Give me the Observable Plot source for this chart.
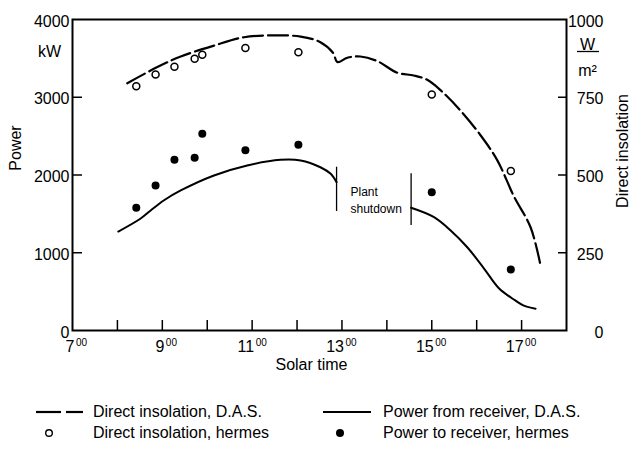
<!DOCTYPE html>
<html><head><meta charset="utf-8">
<script src="https://cdn.jsdelivr.net/npm/d3@7"></script>
<script src="https://cdn.jsdelivr.net/npm/@observablehq/plot@0.6"></script>
<style>
body{margin:0;background:#fff;}
#wrap{position:relative;width:633px;height:452px;overflow:hidden;font-family:"Liberation Sans",Arial,sans-serif;color:#000;}
#legend{position:absolute;left:0;top:385px;width:633px;height:67px;font-size:16px;}
.t{position:absolute;line-height:20px;white-space:nowrap;}
.s{position:absolute;}
</style></head><body>
<div id="wrap"><div id="chart"></div><div id="legend"></div></div>
<script>
// ---- data ----
const xLabelHours = [7, 9, 11, 13, 15, 17];
const xTickHours = [8, 9, 10, 11, 12, 13, 14, 15, 16, 17];
const powerTicks = [0, 1000, 2000, 3000, 4000];
const insolTicks = [0, 250, 500, 750, 1000];

// Direct insolation, D.A.S. (W/m2)
const dasInsolTime = [8.22, 8.89, 9.41, 10.15, 10.82, 11.48, 12.08, 12.52, 12.80, 12.90, 13.12, 13.41, 13.79, 14.23, 14.60, 14.90, 15.20, 15.64, 16.09, 16.46, 16.83, 17.20, 17.43];
const dasInsol     = [795, 847, 881, 916, 943, 949, 945, 927, 893, 863, 877, 881, 866, 829, 820, 806, 772, 707, 627, 547, 431, 332, 204];

// Power from receiver, D.A.S. (kW) - before and after plant shutdown
const dasPowerTimeA = [8.02, 8.51, 8.74, 9.03, 9.41, 10.15, 10.89, 11.63, 12.08, 12.52, 12.75, 12.88];
const dasPowerA     = [1273, 1437, 1543, 1672, 1801, 1994, 2122, 2195, 2187, 2100, 2015, 1907];
const dasPowerTimeB = [14.54, 15.05, 15.42, 15.79, 16.16, 16.50, 16.85, 17.05, 17.31];
const dasPowerB     = [1578, 1457, 1286, 1071, 800, 540, 390, 320, 280];

// hermes measurements
const hermesTime  = [8.42, 8.85, 9.27, 9.72, 9.89, 10.85, 12.03, 15.00, 16.76];
const hermesInsol = [785, 823, 848, 874, 887, 908, 895, 759, 513];
const hermesPower = [1578, 1865, 2197, 2221, 2530, 2319, 2388, 1779, 785];

// plant shutdown markers
const shutdownTime   = [12.88, 14.54];
const shutdownTop    = [2100, 2015];
const shutdownBottom = [1531, 1350];
const shutdownNote   = {t: 13.19, p: 1890, text: "Plant\nshutdown"};

// ---- tables ----
const kWperWm2 = 4;
const insolLine = dasInsolTime.map((t, i) => ({t, p: dasInsol[i] * kWperWm2}));
const powerA = dasPowerTimeA.map((t, i) => ({t, p: dasPowerA[i]}));
const powerB = dasPowerTimeB.map((t, i) => ({t, p: dasPowerB[i]}));
const insolPts = hermesTime.map((t, i) => ({t, p: hermesInsol[i] * kWperWm2}));
const powerPts = hermesTime.map((t, i) => ({t, p: hermesPower[i]}));
const shutdown = shutdownTime.map((t, i) => ({t, top: shutdownTop[i], bottom: shutdownBottom[i]}));

const FONT = `"Liberation Sans",Arial,sans-serif`;
const W = 633, H = 385, ML = 72, MR = 67, MT = 19, MB = 55;
const FW = W - ML - MR, FH = H - MT - MB;

const chart = Plot.plot({
  width: W, height: H, marginLeft: ML, marginRight: MR, marginTop: MT, marginBottom: MB,
  style: {fontFamily: FONT, fontSize: "16px", color: "#000", background: "#fff"},
  x: {domain: [7, 18]},
  y: {domain: [0, 4000]},
  marks: [
    // inward ticks
    Plot.tickY(powerTicks.slice(1, -1), {y: d => d, insetRight: FW - 10, stroke: "#000", strokeWidth: 1.5}),
    Plot.tickY(insolTicks.slice(1, -1), {y: d => d * kWperWm2, insetLeft: FW - 8, stroke: "#000", strokeWidth: 1.5}),
    Plot.tickX(xTickHours, {x: d => d, insetTop: FH - 10, stroke: "#000", strokeWidth: 1.5}),
    Plot.frame({stroke: "#000", strokeWidth: 2}),
    // axes labels
    Plot.axisY(powerTicks, {anchor: "left", tickSize: 0, tickPadding: 3, dy: 2, fontSize: 16, tickFormat: d => String(d), label: null}),
    Plot.axisY(insolTicks.map(d => d * kWperWm2), {anchor: "right", tickSize: 0, tickPadding: 37, textAnchor: "end", dy: 2, fontSize: 16, tickFormat: d => String(d / kWperWm2), label: null}),
    Plot.axisX(xLabelHours, {anchor: "bottom", tickSize: 0, tickPadding: 10, textAnchor: "end", dx: 2, fontSize: 16, tickFormat: d => String(d), label: null}),
    Plot.axisX(xLabelHours, {anchor: "bottom", tickSize: 0, tickPadding: 8, textAnchor: "start", dx: 3.5, fontSize: 10, tickFormat: () => "00", label: null}),
    // units
    Plot.text(["kW"], {frameAnchor: "top-left", textAnchor: "middle", dx: -23, dy: 26, fontSize: 16}),
    Plot.text(["W"], {frameAnchor: "top-right", textAnchor: "middle", dx: 21, dy: 19, fontSize: 16}),
    Plot.ruleY([4000], {dy: 32, insetLeft: FW + 11, insetRight: -33, stroke: "#000", strokeWidth: 1.3}),
    Plot.text(["m²"], {frameAnchor: "top-right", textAnchor: "middle", dx: 21, dy: 45, fontSize: 16}),
    // axis titles
    Plot.text(["Power"], {frameAnchor: "left", textAnchor: "middle", rotate: -90, dx: -57, dy: -27, fontSize: 16}),
    Plot.text(["Direct insolation"], {frameAnchor: "right", textAnchor: "middle", rotate: -90, dx: 56, dy: -24, fontSize: 16}),
    Plot.text(["Solar time"], {frameAnchor: "bottom", textAnchor: "middle", dx: -8, dy: 39, fontSize: 16}),
    // data
    Plot.line(insolLine, {x: "t", y: "p", curve: "catmull-rom", stroke: "#000", strokeWidth: 2.2, strokeDasharray: "20,5"}),
    Plot.line(powerA, {x: "t", y: "p", curve: "catmull-rom", stroke: "#000", strokeWidth: 2}),
    Plot.line(powerB, {x: "t", y: "p", curve: "catmull-rom", stroke: "#000", strokeWidth: 2}),
    Plot.ruleX(shutdown, {x: "t", y1: "bottom", y2: "top", stroke: "#000", strokeWidth: 1.3}),
    Plot.text([shutdownNote], {x: "t", y: "p", text: "text", textAnchor: "start", lineAnchor: "top", lineHeight: 1.45, fontSize: 12}),
    Plot.dot(insolPts, {x: "t", y: "p", r: 3.5, stroke: "#000", strokeWidth: 1.5, fill: "#fff"}),
    Plot.dot(powerPts, {x: "t", y: "p", r: 4, fill: "#000", stroke: "none"})
  ]
});
document.getElementById("chart").appendChild(chart);

// ---- legend ----
const legendItems = [
  {label: "Direct insolation, D.A.S.", kind: "dash", sx: 36, tx: 93, row: 0},
  {label: "Power from receiver, D.A.S.", kind: "solid", sx: 323, tx: 383, row: 0},
  {label: "Direct insolation, hermes", kind: "circle", sx: 49, tx: 93, row: 1},
  {label: "Power to receiver, hermes", kind: "dot", sx: 340, tx: 383, row: 1}
];
const rowY = [27, 48];
const leg = d3.select("#legend");
for (const it of legendItems) {
  const cy = rowY[it.row];
  const svg = leg.append("svg").attr("class", "s");
  if (it.kind === "dash" || it.kind === "solid") {
    svg.attr("width", 50).attr("height", 6).style("left", it.sx + "px").style("top", (cy - 3) + "px");
    if (it.kind === "dash") {
      svg.append("line").attr("x1", 0).attr("x2", 25).attr("y1", 3).attr("y2", 3).attr("stroke", "#000").attr("stroke-width", 2.2);
      svg.append("line").attr("x1", 30).attr("x2", 47).attr("y1", 3).attr("y2", 3).attr("stroke", "#000").attr("stroke-width", 2.2);
    } else {
      svg.append("line").attr("x1", 0).attr("x2", 48).attr("y1", 3).attr("y2", 3).attr("stroke", "#000").attr("stroke-width", 2);
    }
  } else {
    svg.attr("width", 12).attr("height", 12).style("left", (it.sx - 6) + "px").style("top", (cy - 6) + "px");
    if (it.kind === "circle") svg.append("circle").attr("cx", 6).attr("cy", 6).attr("r", 3.3).attr("fill", "#fff").attr("stroke", "#000").attr("stroke-width", 1.4);
    else svg.append("circle").attr("cx", 6).attr("cy", 6).attr("r", 4).attr("fill", "#000");
  }
  leg.append("div").attr("class", "t").style("left", it.tx + "px").style("top", (cy - 10) + "px").text(it.label);
}
</script>
</body></html>
